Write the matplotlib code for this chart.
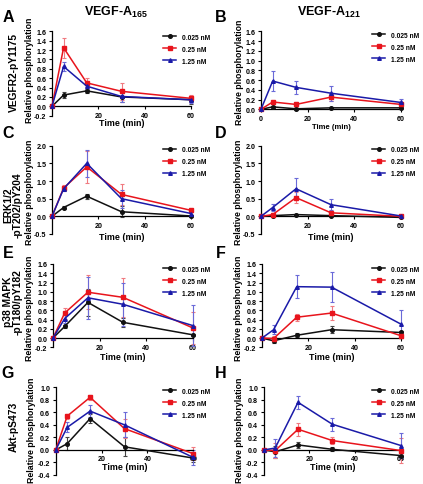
import matplotlib
matplotlib.use("Agg")
import matplotlib.pyplot as plt
from matplotlib.lines import Line2D

plt.rcParams['font.family'] = ['Liberation Sans', 'DejaVu Sans']
plt.rcParams['font.weight'] = 'bold'
plt.rcParams['mathtext.fontset'] = 'custom'
plt.rcParams['mathtext.rm'] = 'Liberation Sans:bold'
plt.rcParams['mathtext.bf'] = 'Liberation Sans:bold'

W, H = 423, 485
DPI = 100

time = [0, 5, 15, 30, 60]
series_labels = ['0.025 nM', '0.25 nM', '1.25 nM']

# Panel A: VEGF-A165, VEGFR2-pY1175
A_vals = [[0, 0.24, 0.33, 0.20, 0.14],
          [0, 1.25, 0.50, 0.32, 0.17],
          [0, 0.85, 0.43, 0.21, 0.14]]
A_err = [[0, 0.06, 0.04, 0.10, 0.08],
         [0, 0.21, 0.10, 0.18, 0.07],
         [0, 0.10, 0.06, 0.12, 0.06]]
# Panel B: VEGF-A121, VEGFR2-pY1175
B_vals = [[0, 0.05, 0.01, 0.03, 0.03],
          [0, 0.15, 0.10, 0.25, 0.10],
          [0, 0.58, 0.45, 0.33, 0.14]]
B_err = [[0, 0.02, 0.02, 0.02, 0.02],
         [0, 0.02, 0.06, 0.08, 0.05],
         [0, 0.20, 0.13, 0.15, 0.08]]
# Panel C: VEGF-A165, ERK1/2
C_vals = [[0, 0.25, 0.57, 0.13, 0.01],
          [0, 0.80, 1.40, 0.62, 0.17],
          [0, 0.78, 1.50, 0.50, 0.08]]
C_err = [[0, 0.04, 0.07, 0.15, 0.03],
         [0, 0.08, 0.45, 0.30, 0.05],
         [0, 0.05, 0.38, 0.25, 0.04]]
# Panel D: VEGF-A121, ERK1/2
D_vals = [[0, 0.02, 0.05, 0.02, -0.03],
          [0, 0.05, 0.53, 0.10, 0.00],
          [0, 0.25, 0.78, 0.33, 0.01]]
D_err = [[0, 0.01, 0.03, 0.02, 0.02],
         [0, 0.02, 0.15, 0.05, 0.02],
         [0, 0.10, 0.30, 0.15, 0.02]]
# Panel E: VEGF-A165, p38 MAPK
E_vals = [[0, 0.25, 0.77, 0.34, 0.07],
          [0, 0.54, 0.99, 0.88, 0.22],
          [0, 0.42, 0.87, 0.73, 0.27]]
E_err = [[0, 0.04, 0.30, 0.10, 0.02],
         [0, 0.12, 0.37, 0.42, 0.35],
         [0, 0.10, 0.45, 0.47, 0.45]]
# Panel F: VEGF-A121, p38 MAPK
F_vals = [[0, -0.06, 0.06, 0.18, 0.12],
          [0, -0.01, 0.45, 0.54, 0.05],
          [0, 0.18, 1.11, 1.10, 0.30]]
F_err = [[0, 0.04, 0.04, 0.07, 0.03],
         [0, 0.05, 0.08, 0.16, 0.05],
         [0, 0.10, 0.25, 0.32, 0.30]]
# Panel G: VEGF-A165, Akt
G_vals = [[0, 0.10, 0.50, 0.05, -0.13],
          [0, 0.54, 0.84, 0.34, -0.06],
          [0, 0.36, 0.62, 0.40, -0.12]]
G_err = [[0, 0.10, 0.07, 0.15, 0.06],
         [0, 0.04, 0.04, 0.15, 0.10],
         [0, 0.08, 0.09, 0.20, 0.12]]
# Panel H: VEGF-A121, Akt
H_vals = [[0, -0.03, 0.08, 0.01, -0.09],
          [0, -0.01, 0.33, 0.15, -0.01],
          [0, 0.03, 0.76, 0.41, 0.07]]
H_err = [[0, 0.10, 0.05, 0.03, 0.05],
         [0, 0.12, 0.10, 0.05, 0.20],
         [0, 0.15, 0.10, 0.10, 0.20]]

line_colors = ['#111111', '#e8141c', '#1a1aa8']
err_colors = ['#444444', '#f07a80', '#6a6ad8']
markers = ['o', 's', '^']

fig = plt.figure(figsize=(W / DPI, H / DPI), dpi=DPI)


def px_axes(L, R, T, B):
    return fig.add_axes([L / W, 1 - B / H, (R - L) / W, (B - T) / H])


def ftext(x, y, s, **kw):
    fig.text(x / W, 1 - y / H, s, **kw)


panels = [
    dict(rect=(52, 191, 32.3, 116.7), ylim=(-0.2, 1.6), yt=[-0.2 + 0.2 * i for i in range(10)],
         vals=A_vals, err=A_err, leg=(163, 50), ylab=(30, 70), tl=124, tfs=6.4, zero_lab=False),
    dict(rect=(261, 401, 32.3, 110.3), ylim=(0, 1.6), yt=[0.2 * i for i in range(9)],
         vals=B_vals, err=B_err, leg=(372, 48), ylab=(239, 72), tl=128, tfs=5.5, zero_lab=True),
    dict(rect=(52, 191, 146.7, 235), ylim=(-0.5, 2.0), yt=[-0.5, 0, 0.5, 1.0, 1.5, 2.0],
         vals=C_vals, err=C_err, leg=(163, 163), ylab=(30, 192), tl=237, tfs=6.4, zero_lab=False),
    dict(rect=(261, 401, 146.7, 235), ylim=(-0.5, 2.0), yt=[-0.5, 0, 0.5, 1.0, 1.5, 2.0],
         vals=D_vals, err=D_err, leg=(372, 163), ylab=(238, 192), tl=237, tfs=6.4, zero_lab=False),
    dict(rect=(53, 192.7, 265, 348.3), ylim=(-0.2, 1.6), yt=[-0.2 + 0.2 * i for i in range(10)],
         vals=E_vals, err=E_err, leg=(163, 282), ylab=(30, 308), tl=357, tfs=6.4, zero_lab=False),
    dict(rect=(262, 401, 265, 348.3), ylim=(-0.2, 1.6), yt=[-0.2 + 0.2 * i for i in range(10)],
         vals=F_vals, err=F_err, leg=(372, 282), ylab=(238, 308), tl=357, tfs=6.4, zero_lab=False),
    dict(rect=(55.7, 193.3, 388.3, 476), ylim=(-0.4, 1.0), yt=[-0.4 + 0.2 * i for i in range(8)],
         vals=G_vals, err=G_err, leg=(163, 404), ylab=(31, 430), tl=468, tfs=6.4, zero_lab=False),
    dict(rect=(263.7, 401, 388.3, 476), ylim=(-0.4, 1.0), yt=[-0.4 + 0.2 * i for i in range(8)],
         vals=H_vals, err=H_err, leg=(372, 404), ylab=(239, 430), tl=468, tfs=6.4, zero_lab=False),
]

letters = ['A', 'B', 'C', 'D', 'E', 'F', 'G', 'H']
letter_pos = [(8, 18), (221, 18), (8, 134), (221, 134), (8, 254), (221, 254), (8, 373), (221, 373)]

for i, p in enumerate(panels):
    ax = px_axes(*p['rect'])
    ax.set_xlim(0, 60)
    ax.set_ylim(*p['ylim'])
    for k in range(3):
        ax.errorbar(time, p['vals'][k], yerr=p['err'][k], fmt='none', ecolor=err_colors[k],
                    elinewidth=0.8, capsize=1.6, capthick=0.8, clip_on=False, zorder=2)
        ax.plot(time, p['vals'][k], color=line_colors[k], lw=1.1, marker=markers[k],
                ms=2.6, mec=line_colors[k], mfc=line_colors[k], clip_on=False, zorder=3,
                label=series_labels[k])
    for s in ['top', 'right']:
        ax.spines[s].set_visible(False)
    ax.spines['bottom'].set_position(('data', 0))
    ax.spines['left'].set_linewidth(0.9)
    ax.spines['bottom'].set_linewidth(0.9)
    ax.set_xticks([0, 20, 40, 60])
    ax.set_xticklabels(['0' if p['zero_lab'] else '', '20', '40', '60'])
    ax.set_yticks(p['yt'])
    ax.set_yticklabels(['{:.1f}'.format(0.0 if abs(v) < 1e-9 else v) for v in p['yt']])
    ax.tick_params(axis='both', length=2.5, width=0.8, labelsize=5.1, pad=1.5)
    ax.patch.set_alpha(0)

    handles = [Line2D([], [], color=line_colors[k], lw=1.1, marker=markers[k], ms=2.6)
               for k in range(3)]
    ax.legend(handles, series_labels, loc='center left',
              bbox_to_anchor=(p['leg'][0] / W, 1 - p['leg'][1] / H), bbox_transform=fig.transFigure,
              frameon=False, handlelength=2.0, handletextpad=0.8,
              labelspacing=0.75, borderpad=0, borderaxespad=0,
              prop={'weight': 'bold', 'size': 4.8})

    ftext(p['ylab'][0], p['ylab'][1], 'Relative phosphorylation', rotation=90,
          ha='center', va='center', fontsize=6.3, fontweight='bold')
    L, R = p['rect'][0], p['rect'][1]
    ftext((L + R) / 2, p['tl'], 'Time (min)', ha='center', va='center',
          fontsize=p['tfs'], fontweight='bold')
    ftext(letter_pos[i][0], letter_pos[i][1], letters[i], ha='center', va='center',
          fontsize=11.5, fontweight='bold')

# Titles
ftext(116, 12, r'VEGF-A$_{\mathbf{165}}$', ha='center', va='center', fontsize=9, fontweight='bold')
ftext(329, 12, r'VEGF-A$_{\mathbf{121}}$', ha='center', va='center', fontsize=9, fontweight='bold')

# Row labels
ftext(14, 72, 'VEGFR2-pY1175', rotation=90, ha='center', va='center', fontsize=7.4, fontweight='bold')
ftext(13, 205, 'ERK1/2\n-pT202/pY204', rotation=90, ha='center', va='center', fontsize=7.4,
      fontweight='bold', linespacing=1.0)
ftext(13, 302, 'p38 MAPK\n-pT180/pY182', rotation=90, ha='center', va='center', fontsize=7.4,
      fontweight='bold', linespacing=1.0)
ftext(14, 427, 'Akt-pS473', rotation=90, ha='center', va='center', fontsize=7.4, fontweight='bold')

fig.savefig('out.png', dpi=DPI)
